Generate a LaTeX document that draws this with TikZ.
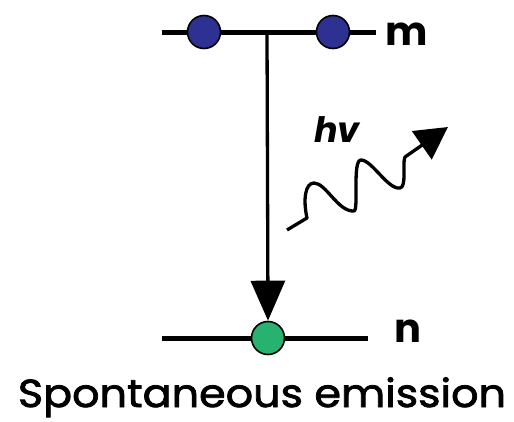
\documentclass[tikz,border=0pt]{standalone}
\usepackage{fontspec}
\setmainfont{Poppins}
\newfontfamily\captionfont{Poppins}[FakeBold=2,FakeStretch=1.1]
\usetikzlibrary{arrows.meta}
\definecolor{levblue}{HTML}{2E3192}
\definecolor{levgreen}{HTML}{27B36F}
\begin{document}
\begin{tikzpicture}[x=1pt,y=-1pt,
  level/.style={line width=5pt},
  atomA/.style={circle,draw=black,line width=1.6pt,fill=levblue,minimum size=33pt,inner sep=0pt},
  atomB/.style={circle,draw=black,line width=1.6pt,fill=levgreen,minimum size=33pt,inner sep=0pt},
  lbl/.style={font=\fontsize{40}{42}\selectfont\bfseries,inner sep=0pt,anchor=base west}]
\useasboundingbox (0,0) rectangle (514,421);
% levels
\coordinate (mL) at (162,32);
\coordinate (mR) at (376,32);
\coordinate (nL) at (162,338);
\coordinate (nR) at (368,338);
\draw[level] (mL) -- (mR);
\draw[level] (nL) -- (nR);
\coordinate (top) at (267,32);
\node[atomB] (g) at (268,338) {};
\draw[line width=3.3pt,-{Triangle[length=40pt,width=34pt]}] (top) -- (g.north);
\node[atomA] (a1) at (204,32) {};
\node[atomA] (a2) at (333,32) {};
\node[lbl] (m) at (385,45) {m};
\node[lbl] (n) at (394,342) {n};
% photon
\coordinate (ps) at (287,230);
\coordinate (pe) at (448,127);
\draw[line width=3.3pt,line join=round,-{Triangle[length=32pt,width=34pt]}]
  (ps) -- (307,218)
  .. controls (303,200) and (305,183) .. (314,183)
  .. controls (326,183) and (338,212) .. (354,211)
  .. controls (359,210) and (352,160) .. (361,160)
  .. controls (372,160) and (388,190) .. (400,188)
  .. controls (407,187) and (402,163) .. (405,157)
  -- (pe);
\node[font=\fontsize{35}{36}\selectfont\bfseries\itshape,inner sep=0pt,anchor=base west] (hv) at (314,142) {hv};
\node[font=\captionfont\fontsize{39}{42}\selectfont,inner sep=0pt,anchor=base] (t) at (262,407) {Spontaneous emission};
\end{tikzpicture}
\end{document}
